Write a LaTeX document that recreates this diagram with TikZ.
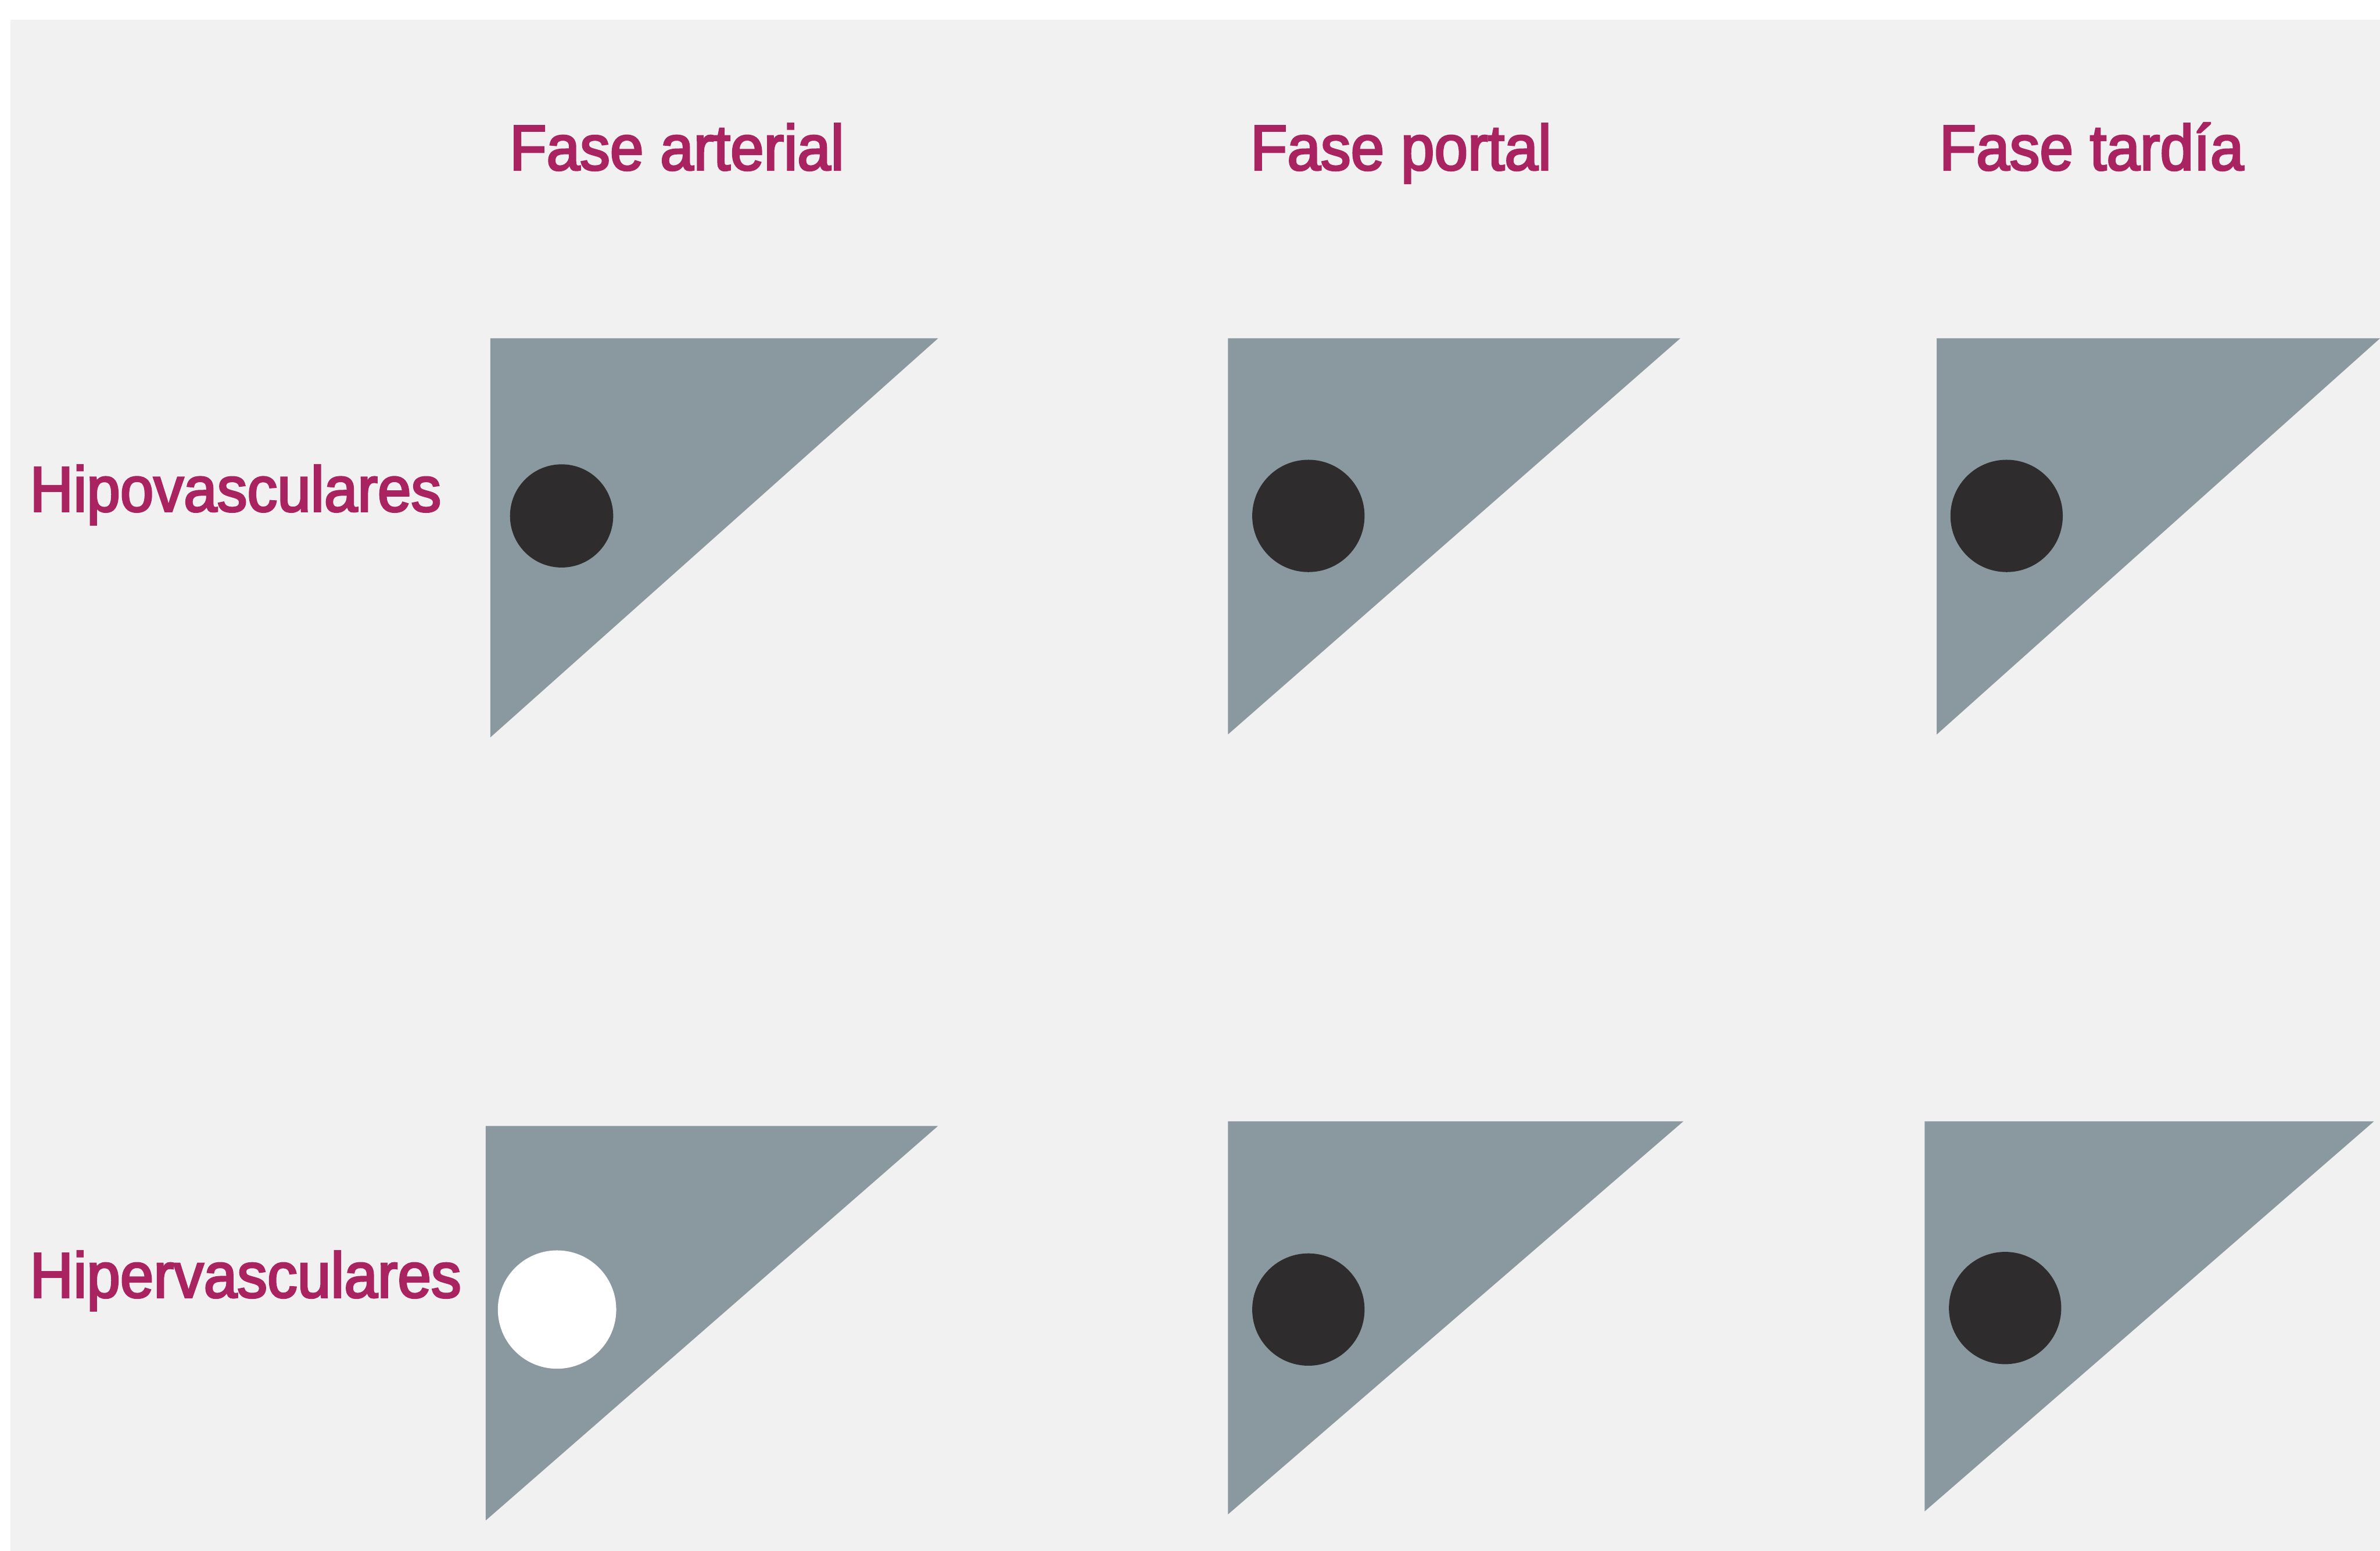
\documentclass[tikz,border=0pt]{standalone}
\usepackage{fontspec}
\setmainfont{Liberation Sans}
\newfontfamily\labfont[FakeStretch=0.94, FakeBold=3]{Liberation Sans}
\usepackage{tikz}
\definecolor{bg}{HTML}{F1F1F1}
\definecolor{tc}{HTML}{A8235F}
\definecolor{tg}{HTML}{8A999F}
\definecolor{dk}{HTML}{2E2C2C}
\begin{document}
\begin{tikzpicture}[
    x=0.1mm, y=-0.1mm,
    hdr/.style={font=\labfont\fontsize{12}{14}\selectfont, text=tc, inner sep=0pt, anchor=base},
    rowlab/.style={hdr, anchor=base west},
    tri/.style={fill=tg},
    dot/.style={fill=dk},
    lit/.style={fill=white}
]
\useasboundingbox (0,0) rectangle (1568,1022);
\fill[white] (0,0) rectangle (1568,1022);
\fill[bg] (7,13) rectangle (1568,1022);

% column headers
\node[hdr] (arterial) at (446,112) {Fase arterial};
\node[hdr] (portal)   at (923,112) {Fase portal};
\node[hdr] (tardia)   at (1378,112) {Fase tardía};

% row labels
\node[rowlab] (hipo)  at (19,337) {Hipovasculares};
\node[rowlab] (hiper) at (19,855) {Hipervasculares};

% hipovasculares
\fill[tri] (323,223) -- (618,223) -- (323,486) -- cycle;
\fill[tri] (809,223) -- (1107,223) -- (809,484) -- cycle;
\fill[tri] (1276,223) -- (1568,223) -- (1276,484) -- cycle;
\fill[dot] (370,340) circle[radius=3.4mm];
\fill[dot] (862,340) circle[radius=3.7mm];
\fill[dot] (1322,340) circle[radius=3.7mm];

% hipervasculares
\fill[tri] (320,742) -- (618,742) -- (320,1002) -- cycle;
\fill[tri] (809,739) -- (1109,739) -- (809,998) -- cycle;
\fill[tri] (1268,739) -- (1564,739) -- (1268,996) -- cycle;
\fill[lit] (367,863) circle[radius=3.9mm];
\fill[dot] (862,863) circle[radius=3.7mm];
\fill[dot] (1321,862) circle[radius=3.7mm];
\end{tikzpicture}
\end{document}
